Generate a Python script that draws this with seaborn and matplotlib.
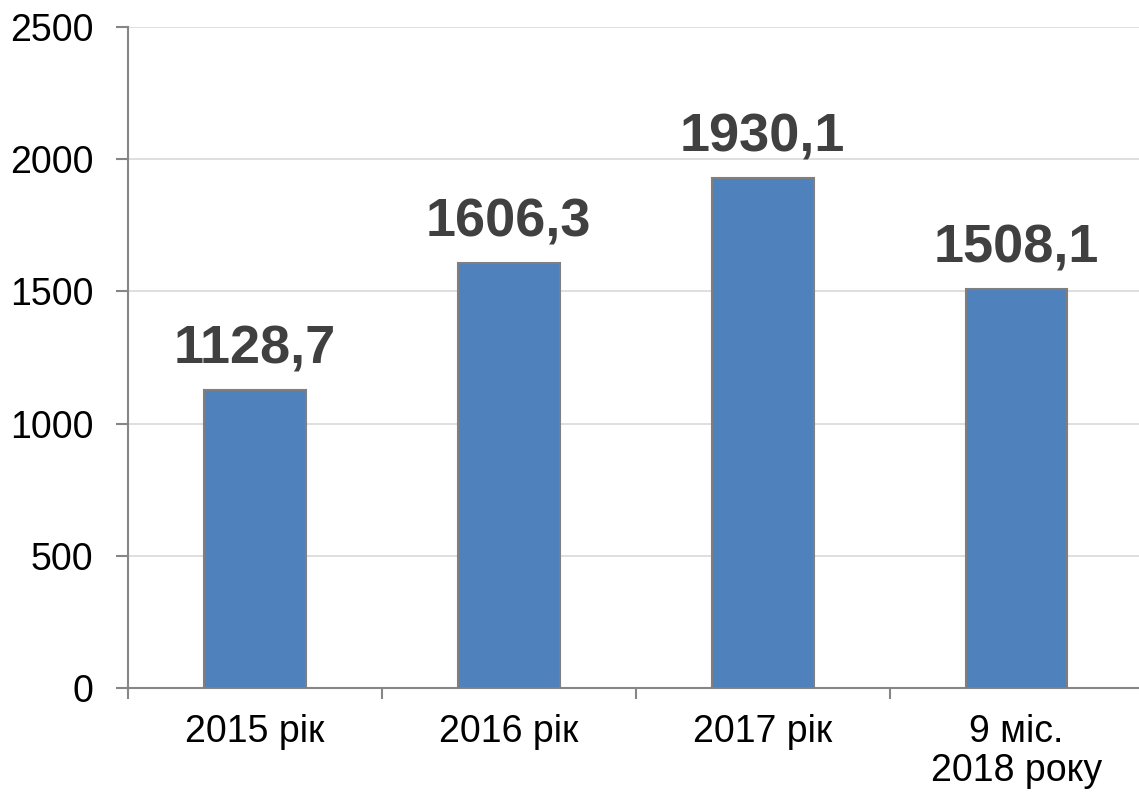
import matplotlib
matplotlib.use("Agg")
import matplotlib.pyplot as plt
import seaborn as sns
import pandas as pd
from matplotlib.ticker import FixedLocator

categories = ["2015 рік", "2016 рік", "2017 рік", "9 міс.\n2018 року"]
values = [1128.7, 1606.3, 1930.1, 1508.1]
labels = ["1128,7", "1606,3", "1930,1", "1508,1"]
yticks = [0, 500, 1000, 1500, 2000, 2500]

sns.set_theme(style="white")
plt.rcParams['font.family'] = ['Liberation Sans', 'DejaVu Sans']

df = pd.DataFrame({"cat": categories, "val": values})

fig = plt.figure(figsize=(11.39, 7.95), dpi=100)
ax = fig.add_axes([128/1139, 1 - 688/795, (1139 - 128)/1139 + 0.004, (688 - 27)/795])

sns.barplot(data=df, x="cat", y="val", ax=ax, color="#4F81BD", width=0.4,
            edgecolor="#7F7F7F", linewidth=1.5, saturation=1, zorder=3)

ax.set_ylim(0, 2500)
ax.set_xlim(-0.5, 3.5)
ax.set_yticks(yticks)
ax.set_yticklabels([str(t) for t in yticks])
ax.yaxis.grid(True, color="#D9D9D9", linewidth=1.2, zorder=0)
ax.set_axisbelow(True)
ax.set_xlabel("")
ax.set_ylabel("")

for s in ["top", "right"]:
    ax.spines[s].set_visible(False)
for s in ["left", "bottom"]:
    ax.spines[s].set_color("#868686")
    ax.spines[s].set_linewidth(1.5)

ax.tick_params(axis="y", which="major", length=9, width=1.5, color="#868686",
               labelsize=27, pad=16, left=True, labelcolor="black")
ax.tick_params(axis="x", which="major", length=0, labelsize=27, pad=18.5, labelcolor="black")
for t in ax.get_xticklabels():
    t.set_linespacing(1.12)
ax.xaxis.set_minor_locator(FixedLocator([-0.5, 0.5, 1.5, 2.5, 3.5]))
ax.tick_params(axis="x", which="minor", length=8, width=1.5, color="#868686", bottom=True)

for i, (v, lab) in enumerate(zip(values, labels)):
    ax.annotate(lab, xy=(i, v), xytext=(0, 19), textcoords="offset points",
                ha="center", va="baseline", fontsize=39,
                fontweight="bold", color="#404040")

fig.savefig("out.png", dpi=100)
